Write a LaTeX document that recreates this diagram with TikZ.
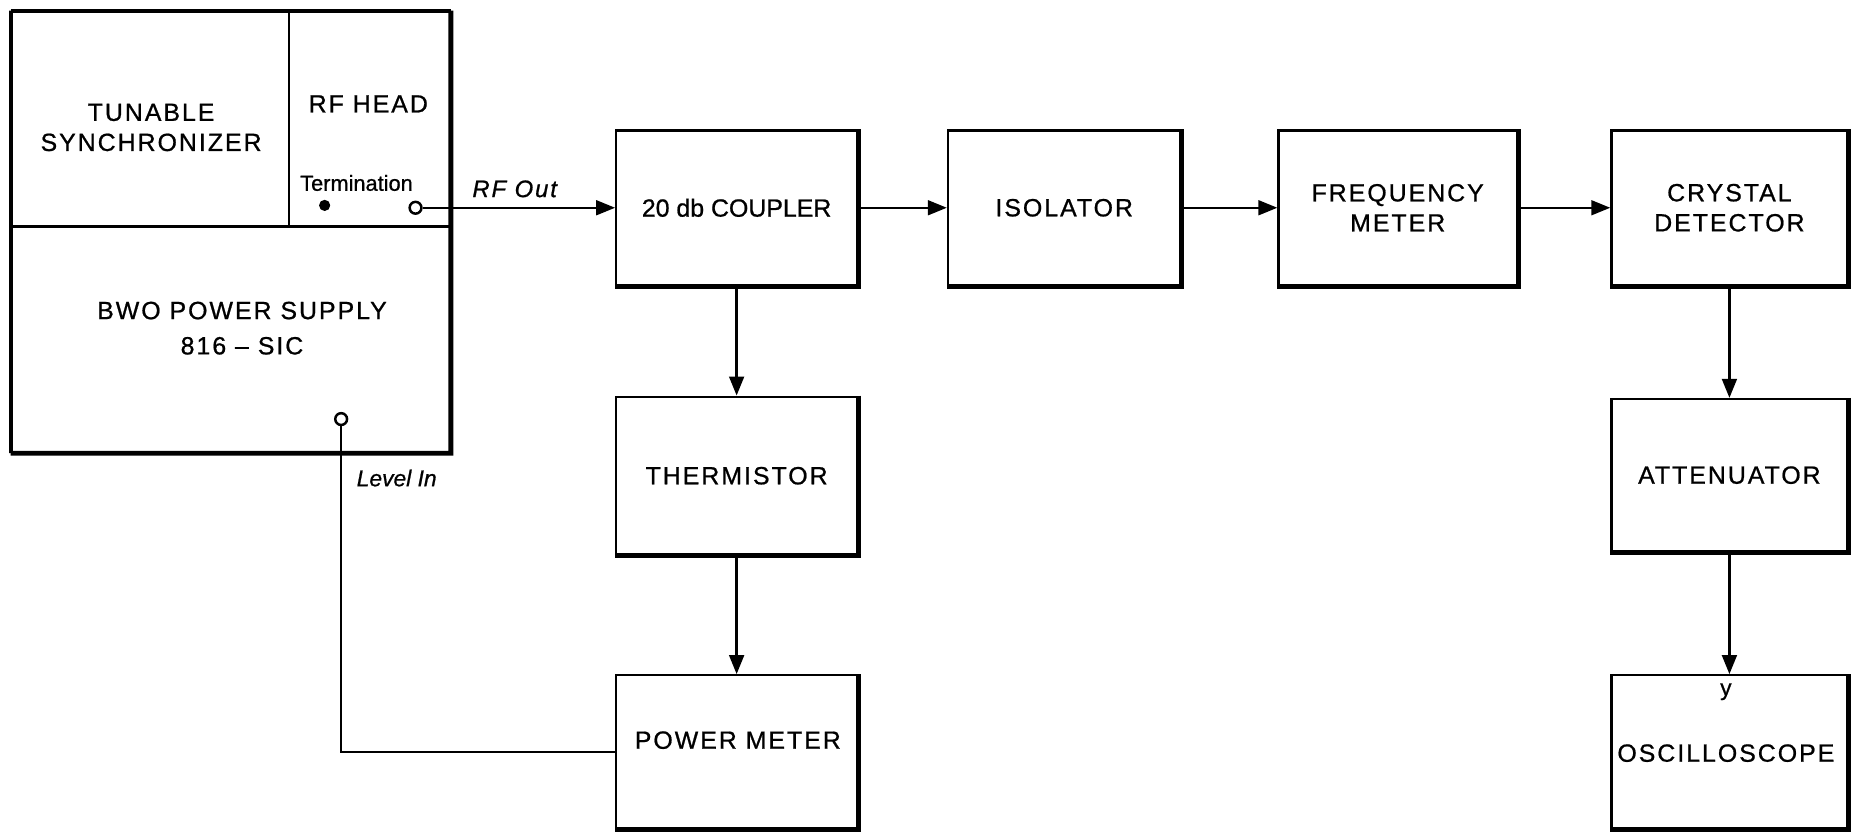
\documentclass[tikz,border=0pt]{standalone}
\usepackage{fontspec}
\setmainfont{Liberation Sans}[UprightFeatures={FakeBold=0.8}, ItalicFeatures={FakeBold=0.8}]
\newfontfamily\spaced{Liberation Sans}[LetterSpace=8, UprightFeatures={FakeBold=0.8}, ItalicFeatures={FakeBold=0.8}]
\usetikzlibrary{arrows.meta}

\begin{document}
\begin{tikzpicture}[
    x=0.02cm, y=-0.02cm,
    box/.style={draw, rectangle, line width=1.1pt, minimum width=4.04cm, minimum height=2.62cm, font=\spaced\fontsize{12}{14.5}\selectfont, align=center},
    part/.style={draw, rectangle, line width=1.1pt, inner sep=0pt},
    lbl/.style={font=\spaced\fontsize{12}{14.5}\selectfont, align=center},
    port/.style={font=\spaced\itshape\fontsize{11.5}{13}\selectfont},
    heavy/.style={line width=2.4pt},
    conn/.style={line width=1.1pt},
    flow/.style={conn, -{Triangle[length=0.32cm, width=0.25cm]}},
    jack/.style={circle, draw, line width=1.2pt, fill=white, inner sep=0pt, minimum size=0.2cm}
]
    \useasboundingbox (0,0) rectangle (1568,705);

    % BWO unit
    \node[part, minimum width=4.7cm, minimum height=3.64cm] (sync) at (127.5,101) {};
    \node[part, minimum width=2.72cm, minimum height=3.64cm] (head) at (313,101) {};
    \node[part, minimum width=7.42cm, minimum height=3.82cm] (bwo) at (195.5,287.5) {};
    \draw[line width=1.5pt] (sync.north west) -- (head.north east);
    \draw[line width=1.5pt] (sync.north west) -- (bwo.south west);
    \draw[heavy] (head.north east) -- (bwo.south east) -- (bwo.south west);
    \node[lbl] (sync-t) at (128,108) {TUNABLE\\SYNCHRONIZER};
    \node[lbl] (head-t) at (312,88) {RF HEAD};
    \node[font=\fontsize{10.5}{12}\selectfont] (term) at (302,155) {Termination};
    \node[circle, fill, inner sep=0pt, minimum size=0.19cm] (termdot) at (275,174) {};
    \node[lbl, font=\spaced\fontsize{12}{17}\selectfont] (bwo-t) at (205,278) {BWO POWER SUPPLY\\816 – SIC};
    \node[jack] (rfout) at (352,176) {};
    \node[jack] (lvlin) at (289,355) {};

    % Top row
    \node[box, minimum width=4.08cm, font=\fontsize{12}{14}\selectfont] (coup) at (624,176) {20 db COUPLER};
    \node[box, minimum width=3.94cm] (iso) at (901.5,176) {ISOLATOR};
    \node[box] (freq) at (1184,176) {FREQUENCY\\METER};
    \node[box, minimum width=4cm] (cryst) at (1465,176) {CRYSTAL\\DETECTOR};

    % Power branch
    \node[box, minimum width=4.08cm, minimum height=2.68cm] (therm) at (624,403) {THERMISTOR};
    \node[box, minimum width=4.08cm, minimum height=2.6cm] (pm) at (624,637) {};
    \node[lbl] (pm-t) at (625,627) {POWER METER};

    % Detector branch
    \node[box, minimum width=4cm, minimum height=2.58cm] (att) at (1465,402.5) {ATTENUATOR};
    \node[box, minimum width=4cm, minimum height=2.6cm] (osc) at (1465,637) {};
    \node[font=\fontsize{11}{12}\selectfont] (osc-y) at (1462,586) {y};
    \node[lbl] (osc-t) at (1462,638) {OSCILLOSCOPE};

    \foreach \b in {coup, iso, freq, cryst, therm, pm, att, osc}
        \draw[heavy] (\b.north east) -- (\b.south east) -- (\b.south west);

    % Connections
    \draw[flow] (rfout) -- (coup);
    \node[port, anchor=west] (rf-t) at (394,160) {RF Out};
    \draw[flow] (coup) -- (iso);
    \draw[flow] (iso) -- (freq);
    \draw[flow] (freq) -- (cryst);
    \draw[flow] (coup) -- (therm);
    \draw[flow] (therm) -- (pm);
    \draw[flow] (cryst) -- (att);
    \draw[flow] (att) -- (osc);
    \draw[conn] (lvlin) |- (pm);
    \node[port, anchor=west, font=\itshape\fontsize{11}{13}\selectfont] (lvl-t) at (296,405) {Level In};
\end{tikzpicture}
\end{document}
